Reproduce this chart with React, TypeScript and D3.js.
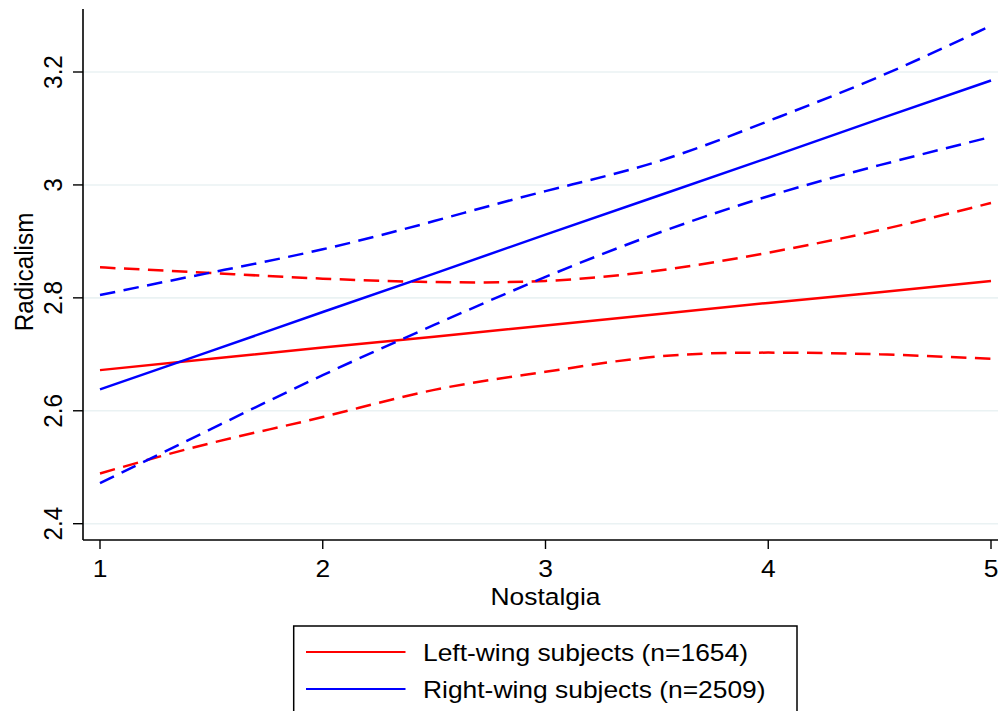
import React from "react";
import * as d3 from "d3";

const xTicks = [1, 2, 3, 4, 5];
const yTicks = [2.4, 2.6, 2.8, 3, 3.2];
const xGrid = [1, 1.5, 2, 2.5, 3, 3.5, 4, 4.5, 5];

const leftFit = [2.672, 2.692, 2.712, 2.731, 2.751, 2.771, 2.791, 2.810, 2.830];
const leftUpper = [2.854, 2.844, 2.834, 2.828, 2.830, 2.848, 2.880, 2.920, 2.968];
const leftLower = [2.489, 2.543, 2.589, 2.637, 2.669, 2.696, 2.703, 2.700, 2.692];

const rightFit = [2.638, 2.706, 2.775, 2.843, 2.912, 2.980, 3.048, 3.117, 3.185];
const rightUpper = [2.805, 2.845, 2.886, 2.936, 2.989, 3.041, 3.113, 3.192, 3.282];
const rightLower = [2.472, 2.568, 2.663, 2.752, 2.837, 2.914, 2.980, 3.035, 3.085];

const legendLabels = ["Left-wing subjects (n=1654)", "Right-wing subjects (n=2509)"];
const seriesColors = ["#ff0000", "#0000ff"];

const W = 998;
const H = 711;
const FONT = "'Liberation Sans', Arial, Helvetica, sans-serif";
const FS = 24.3;
const K = 1.087;

export default function App() {
  const x = d3.scaleLinear().domain([1, 5]).range([100, 991]);
  const y = d3.scaleLinear().domain([2.4, 3.2]).range([523.7, 72]);
  const axisX = 83;
  const axisY = 540;

  const line = (vals: number[], curve: any) =>
    d3
      .line<number>()
      .x((_, i) => x(xGrid[i]))
      .y((v) => y(v))
      .curve(curve)(vals) as string;

  const series = [
    { fit: leftFit, up: leftUpper, lo: leftLower, color: seriesColors[0] },
    { fit: rightFit, up: rightUpper, lo: rightLower, color: seriesColors[1] },
  ];

  return (
    <svg
      width={W}
      height={H}
      style={{ position: "absolute", left: 0, top: 0, background: "#fff" }}
      fontFamily={FONT}
    >
      <rect x={0} y={0} width={W} height={H} fill="#fff" />
      {yTicks.map((t) => (
        <line key={"g" + t} x1={axisX} x2={W} y1={y(t)} y2={y(t)} stroke="#eaf2f3" strokeWidth={1.6} />
      ))}
      {series.map((s, i) => (
        <g key={"s" + i} fill="none" stroke={s.color} strokeWidth={2.5}>
          <path d={line(s.fit, d3.curveLinear)} />
          <path d={line(s.up, d3.curveNatural)} strokeDasharray="15.5 8.5" />
          <path d={line(s.lo, d3.curveNatural)} strokeDasharray="15.5 8.5" />
        </g>
      ))}
      <line x1={axisX} x2={axisX} y1={9} y2={axisY} stroke="#000" strokeWidth={1.6} />
      <line x1={axisX} x2={W} y1={axisY} y2={axisY} stroke="#000" strokeWidth={1.6} />
      {yTicks.map((t) => (
        <g key={"yt" + t}>
          <line x1={73} x2={axisX} y1={y(t)} y2={y(t)} stroke="#000" strokeWidth={1.4} />
          <text
            transform={`translate(62,${y(t)}) scale(${K},1) rotate(-90)`}
            textAnchor="middle"
            fontSize={FS}
            fill="#000"
          >
            {d3.format("~g")(t)}
          </text>
        </g>
      ))}
      {xTicks.map((t) => (
        <g key={"xt" + t}>
          <line x1={x(t)} x2={x(t)} y1={axisY} y2={549} stroke="#000" strokeWidth={1.4} />
          <text
            transform={`translate(${x(t)},576.7) scale(${K},1)`}
            textAnchor="middle"
            fontSize={FS}
            fill="#000"
          >
            {t}
          </text>
        </g>
      ))}
      <text transform={`translate(545.5,605) scale(${K},1)`} textAnchor="middle" fontSize={FS} fill="#000">
        Nostalgia
      </text>
      <text
        transform={`translate(33,272) scale(${K},1) rotate(-90)`}
        textAnchor="middle"
        fontSize={FS}
        fill="#000"
      >
        Radicalism
      </text>
      <rect x={293.7} y={626} width={503.3} height={100} fill="#fff" stroke="#000" strokeWidth={1.5} />
      {legendLabels.map((lab, i) => (
        <g key={"lg" + i}>
          <line x1={306} x2={405.5} y1={652 + i * 37} y2={652 + i * 37} stroke={seriesColors[i]} strokeWidth={2.2} />
          <text transform={`translate(423,${660.8 + i * 37}) scale(${K},1)`} fontSize={FS} fill="#000">
            {lab}
          </text>
        </g>
      ))}
    </svg>
  );
}
